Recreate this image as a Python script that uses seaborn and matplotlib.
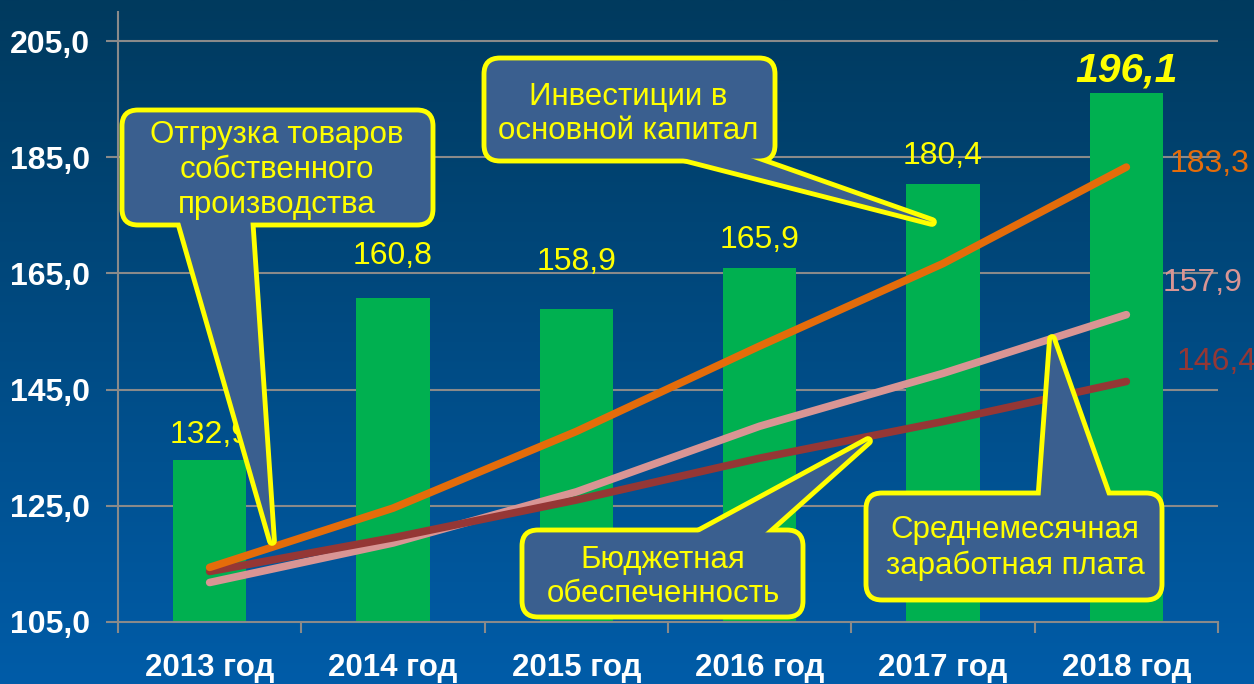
import numpy as np
import pandas as pd
import matplotlib
matplotlib.use("Agg")
import matplotlib.pyplot as plt
import matplotlib.transforms as mtransforms
from matplotlib.patches import FancyBboxPatch, Polygon
import seaborn as sns

# ---------------- data ----------------
years = ["2013 год", "2014 год", "2015 год", "2016 год", "2017 год", "2018 год"]
shipments = [132.9, 160.8, 158.9, 165.9, 180.4, 196.1]          # bars
investments = [114.4, 124.6, 137.8, 152.5, 166.7, 183.3]        # orange
wages = [111.8, 118.6, 127.4, 138.7, 147.8, 157.9]              # pink
budget = [113.7, 119.5, 126.0, 133.2, 139.5, 146.4]             # dark red
bar_labels = ["132,9", "160,8", "158,9", "165,9", "180,4", "196,1"]
yticks = [105.0, 125.0, 145.0, 165.0, 185.0, 205.0]
ytick_labels = ["105,0", "125,0", "145,0", "165,0", "185,0", "205,0"]
callout_texts = ["Отгрузка товаров\nсобственного\nпроизводства",
                 "Инвестиции в\nосновной капитал",
                 "Бюджетная\nобеспеченность",
                 "Среднемесячная\nзаработная плата"]

# ---------------- style ----------------
W, H, DPI = 1254, 684, 100
GREEN = "#00b050"
ORANGE = "#e46c0a"
PINK = "#d99594"
DARKRED = "#953735"
YELLOW = "#ffff00"
BOXFILL = "#3a5f8f"
GRID = "#8a8a8a"

sns.set_theme(style="white")
plt.rcParams["font.family"] = ["Liberation Sans", "DejaVu Sans"]

fig = plt.figure(figsize=(W / DPI, H / DPI), dpi=DPI)

# background gradient
bg = fig.add_axes([0, 0, 1, 1], zorder=-10)
grad = np.linspace(0, 1, 256).reshape(-1, 1)
top = np.array([0x00, 0x3a, 0x5e]) / 255
bot = np.array([0x00, 0x5c, 0xa8]) / 255
img = top[None, None, :] * (1 - grad[:, :, None]) + bot[None, None, :] * grad[:, :, None]
bg.imshow(img, aspect="auto", extent=[0, 1, 0, 1], origin="upper")
bg.set_axis_off()

ax = fig.add_axes([118 / W, (H - 622) / H, 1100 / W, 610 / H])
ax.patch.set_alpha(0)

df = pd.DataFrame({"year": years, "ship": shipments})
sns.barplot(data=df, x="year", y="ship", color=GREEN, width=0.4, ax=ax,
            saturation=1, zorder=2, linewidth=0, edgecolor="none")

xpos = np.arange(len(years))
for vals, col in [(wages, PINK), (budget, DARKRED), (investments, ORANGE)]:
    sns.lineplot(x=xpos, y=vals, color=col, lw=5.5, ax=ax, zorder=4,
                 solid_capstyle="round")

ax.set_xlim(-0.5, len(years) - 0.5)
ax.set_ylim(105, 210)
ax.set_xlabel("")
ax.set_ylabel("")

# grid & spines
for y in yticks[1:]:
    ax.axhline(y, color=GRID, lw=1.5, zorder=1)
for s in ["top", "right"]:
    ax.spines[s].set_visible(False)
for s in ["left", "bottom"]:
    ax.spines[s].set_color(GRID)
    ax.spines[s].set_linewidth(1.5)

ax.set_yticks(yticks)
ax.set_yticklabels(ytick_labels)
ax.tick_params(axis="y", direction="out", length=9, width=1.5, color=GRID,
               labelcolor="white", labelsize=23, pad=11, left=True)
for t in ax.get_yticklabels():
    t.set_fontweight("bold")

ax.set_xticks(np.arange(len(years) + 1) - 0.5)
ax.set_xticklabels([])
ax.set_xticks(xpos, minor=True)
ax.set_xticklabels(years, minor=True)
ax.tick_params(axis="x", which="major", direction="out", length=8, width=1.5,
               color=GRID, bottom=True)
ax.tick_params(axis="x", which="minor", length=0, labelcolor="white",
               labelsize=22.5, pad=22)
for t in ax.get_xticklabels(minor=True):
    t.set_fontweight("bold")

# bar value labels
label_offsets_px = [25, 42, 47, 28, 28, 22]
for i, (v, lab) in enumerate(zip(shipments, bar_labels)):
    last = i == len(shipments) - 1
    ax.annotate(lab, (i, v), xytext=(0, label_offsets_px[i] * 0.72),
                textcoords="offset points", ha="center", va="center",
                color=YELLOW, fontsize=29.5 if last else 23,
                fontweight="bold" if last else "normal",
                fontstyle="italic" if last else "normal", zorder=3)

# line end labels
end_offsets_px = [(43, 3, investments, ORANGE), (36, 32, wages, PINK),
                  (50, 19, budget, DARKRED)]
for dx, dy, vals, col in end_offsets_px:
    ax.annotate(f"{vals[-1]:.1f}".replace(".", ","), (len(vals) - 1, vals[-1]),
                xytext=(dx * 0.72, dy * 0.72), textcoords="offset points",
                ha="left", va="center", color=col, fontsize=23, zorder=3,
                annotation_clip=False)

# callouts (pixel coordinates, origin top-left)
pix = mtransforms.Affine2D().scale(1 / W, -1 / H).translate(0, 1) + fig.transFigure
callouts = [
    # box (x0, y0, x1, y1), tail (base-left, base-right, tip), text center
    ((122, 110, 433, 225), [(178, 215), (250, 215), (272, 541)], (277, 170)),
    ((484, 58, 775, 161), [(652, 150), (728, 150), (932, 222)], (628, 114)),
    ((522, 530, 803, 617), [(685, 540), (757, 540), (868, 441)], (663, 577)),
    ((866, 493, 1162, 600), [(1040, 503), (1110, 503), (1052, 339)], (1015, 548)),
]
for (x0, y0, x1, y1), tail, (tx, ty) in callouts:
    z = 8
    tp = Polygon(tail, closed=True, fc=BOXFILL, ec=YELLOW, lw=7,
                 transform=pix, zorder=z, clip_on=False, joinstyle="round")
    fig.add_artist(tp)
    box = FancyBboxPatch((x0, y0), x1 - x0, y1 - y0,
                         boxstyle="round,pad=0,rounding_size=16",
                         fc=BOXFILL, ec=YELLOW, lw=3.5, transform=pix,
                         zorder=z + 1, clip_on=False)
    fig.add_artist(box)
    cover = Polygon(tail, closed=True, fc=BOXFILL, ec="none", lw=0,
                    transform=pix, zorder=z + 2, clip_on=False)
    fig.add_artist(cover)

for ((x0, y0, x1, y1), tail, (tx, ty)), txt in zip(callouts, callout_texts):
    fig.text(tx, ty, txt, transform=pix, ha="center", va="center",
             multialignment="center", color=YELLOW, fontsize=22.5,
             linespacing=1.2, zorder=12)

fig.savefig("out.png", dpi=DPI)
